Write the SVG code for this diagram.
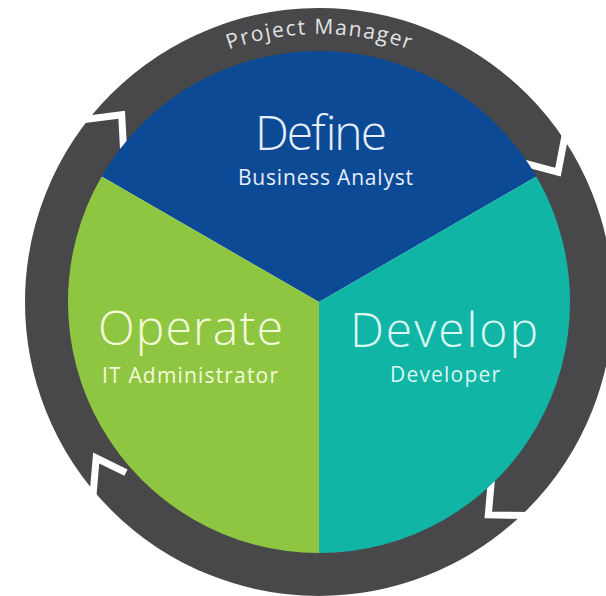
<svg xmlns="http://www.w3.org/2000/svg" width="606" height="596" viewBox="0 0 606 596">
  <defs>
    <style>
      .ring { fill: none; stroke: #48484a; stroke-width: 44; }
      .gap { fill: none; stroke: #ffffff; stroke-width: 7; stroke-linejoin: miter; stroke-linecap: butt; }
      .title { font-family: "Open Sans", "Liberation Sans", sans-serif; font-weight: 300; font-size: 48px; text-anchor: middle; }
      .sub { font-family: "Open Sans", "Liberation Sans", sans-serif; font-weight: 400; font-size: 21px; text-anchor: middle; }
      .pm { font-family: "Open Sans", "Liberation Sans", sans-serif; font-weight: 400; font-size: 21px; fill: #e2e2e2; text-anchor: middle; }
    </style>
    <path id="pmArc" d="M185,69.9 A268,268 0 0,1 453,69.9"/>
  </defs>
  <rect width="606" height="596" fill="#ffffff"/>
  <g id="connectors">
    <circle class="ring" cx="319" cy="302" r="272"/>
    <polyline class="gap" points="123.9,156.4 121.7,114.8 79.0,120.3"/>
    <polyline class="gap" points="517.8,161.4 558.0,172.2 566.1,129.9"/>
    <polyline class="gap" points="492.0,473.4 488.3,514.9 531.4,515.4"/>
    <polyline class="gap" points="126.0,472.7 96.2,458.0 92.5,501.0"/>
  </g>
  <g id="project-manager">
    <text class="pm"><textPath href="#pmArc" startOffset="50%" textLength="184" lengthAdjust="spacing">Project Manager</textPath></text>
  </g>
  <g id="node-define">
    <path d="M319,302 L101.6,176.5 A251,251 0 0,1 536.4,176.5 Z" fill="#0c4a96"/>
    <text class="title" x="321" y="150" fill="#e6eefa" textLength="132">Define</text>
    <text class="sub" x="325.5" y="185" fill="#e6eefa" textLength="175">Business Analyst</text>
  </g>
  <g id="node-develop">
    <path d="M319,302 L536.4,176.5 A251,251 0 0,1 319,553 Z" fill="#10b5a6"/>
    <text class="title" x="444" y="347" fill="#dcf7f2" textLength="188">Develop</text>
    <text class="sub" x="445" y="382" fill="#dcf7f2" textLength="110">Developer</text>
  </g>
  <g id="node-operate">
    <path d="M319,302 L319,553 A251,251 0 0,1 101.6,176.5 Z" fill="#8fc641"/>
    <text class="title" x="190.5" y="345" fill="#f3fadb" textLength="185">Operate</text>
    <text class="sub" x="190" y="383" fill="#f3fadb" textLength="176">IT Administrator</text>
  </g>
</svg>
